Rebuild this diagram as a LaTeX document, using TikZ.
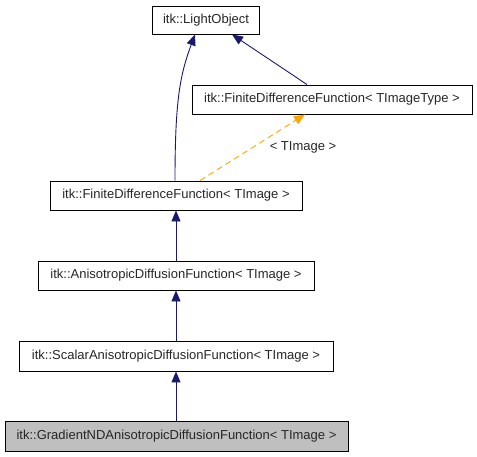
\documentclass[tikz,border=0pt]{standalone}
\usepackage{fontspec}
\setmainfont{Liberation Sans}
\usetikzlibrary{arrows.meta}
\definecolor{navy}{HTML}{191970}
\definecolor{orng}{HTML}{FFA500}
\begin{document}
\begin{tikzpicture}[x=1pt,y=-1pt,
  lbl/.style={font=\fontsize{13}{15}\selectfont,text=black!85},
  cls/.style={draw=black,line width=0.9pt,inner sep=0pt,lbl},
  inh/.style={navy,line width=0.9pt,-{Triangle[length=11pt,width=9pt]}},
  tmpl/.style={orng,line width=0.9pt,dashed,dash pattern=on 6pt off 4pt,-{Triangle[length=11pt,width=9pt]}}]
\useasboundingbox (0,0) rectangle (477,456);
\node[cls,minimum width=107pt,minimum height=28pt] (lo) at (206,20) {itk::LightObject};
\node[cls,minimum width=280pt,minimum height=29pt] (fdt) at (332,99.5) {itk::FiniteDifferenceFunction< TImageType >};
\node[cls,minimum width=252pt,minimum height=29pt] (fdf) at (176,195.5) {itk::FiniteDifferenceFunction< TImage >};
\node[cls,minimum width=276pt,minimum height=29pt] (adf) at (176,275.5) {itk::AnisotropicDiffusionFunction< TImage >};
\node[cls,minimum width=314pt,minimum height=30pt] (sadf) at (176,356) {itk::ScalarAnisotropicDiffusionFunction< TImage >};
\node[cls,fill=black!25,minimum width=343pt,minimum height=30pt] (gadf) at (176.5,436) {itk::GradientNDAnisotropicDiffusionFunction< TImage >};
\node[lbl] (tl) at (303,147) {< TImage >};
\draw[inh] (fdf.north -| 175,0) .. controls (175,100) and (180,75) .. (lo.south -| 195,0);
\draw[inh] (fdt.north -| 307,0) -- (lo.south -| 232,0);
\draw[tmpl] (fdf.north -| 200,0) -- (fdt.south -| 305,0);
\draw[inh] (adf.north) -- (fdf.south);
\draw[inh] (sadf.north) -- (adf.south);
\draw[inh] (gadf.north -| 176,0) -- (sadf.south);
\end{tikzpicture}
\end{document}
